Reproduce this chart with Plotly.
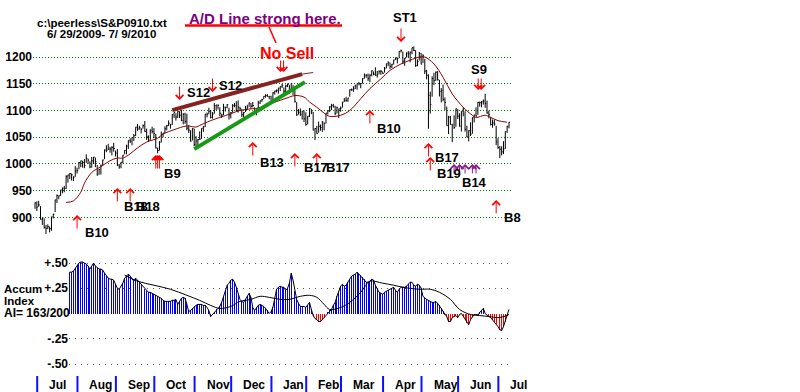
import plotly.graph_objects as go

W, H = 800, 392
FONT = "Liberation Sans, Arial, sans-serif"

# ---------------- DATA (trading-day index 0 = 6/29/2009 ... 259 = 7/9/2010) -------------
close = [
    927.2, 919.3, 923.3, 896.4, 898.7, 881.0, 879.6, 882.7, 879.1, 901.1,
    905.8, 932.7, 940.7, 940.4, 951.1, 954.6, 954.1, 976.3, 979.3, 982.2,
    979.6, 975.2, 986.8, 987.5, 1002.6, 1005.7, 1002.7, 997.1, 1010.5, 1007.1,
    994.4, 1005.8, 1012.7, 1004.1, 979.7, 989.7, 996.5, 1007.4, 1026.1, 1025.6,
    1028.0, 1028.1, 1031.0, 1028.9, 1020.6, 998.0, 994.8, 1003.2, 1016.4, 1025.4,
    1033.4, 1044.1, 1042.7, 1049.3, 1052.6, 1068.8, 1065.5, 1068.3, 1064.7, 1071.7,
    1060.9, 1050.8, 1044.4, 1063.0, 1060.6, 1057.1, 1029.9, 1025.2, 1040.5, 1054.7,
    1057.6, 1065.5, 1071.5, 1076.2, 1073.2, 1092.0, 1096.6, 1087.7, 1097.9, 1091.1,
    1081.4, 1092.9, 1079.6, 1067.0, 1063.4, 1042.6, 1066.1, 1036.2, 1042.9, 1045.4,
    1046.5, 1066.6, 1069.3, 1093.1, 1093.0, 1098.5, 1087.2, 1093.5, 1109.3, 1110.3,
    1109.8, 1094.9, 1091.4, 1106.2, 1105.7, 1110.6, 1091.5, 1095.6, 1108.9, 1109.2,
    1099.9, 1106.0, 1103.3, 1091.9, 1096.0, 1102.4, 1106.4, 1114.1, 1107.9, 1109.2,
    1096.1, 1102.5, 1114.1, 1118.0, 1120.6, 1126.5, 1127.8, 1126.2, 1126.4, 1115.1,
    1133.0, 1136.5, 1137.1, 1141.7, 1145.0, 1147.0, 1136.2, 1145.7, 1148.5, 1136.0,
    1150.2, 1138.0, 1116.5, 1091.8, 1096.8, 1092.2, 1097.5, 1084.5, 1073.9, 1089.2,
    1103.3, 1097.3, 1063.1, 1066.2, 1056.7, 1070.5, 1068.1, 1078.5, 1075.5, 1094.9,
    1099.5, 1106.8, 1109.2, 1108.0, 1094.6, 1105.2, 1102.9, 1104.5, 1115.7, 1118.3,
    1118.8, 1123.0, 1138.7, 1138.5, 1140.5, 1145.6, 1150.2, 1150.0, 1150.5, 1159.5,
    1166.2, 1165.8, 1159.9, 1165.8, 1174.2, 1167.7, 1165.7, 1166.6, 1173.2, 1173.3,
    1169.4, 1178.1, 1187.4, 1189.4, 1182.5, 1186.4, 1194.4, 1196.5, 1197.3, 1210.7,
    1211.7, 1192.1, 1197.5, 1207.2, 1205.9, 1208.7, 1217.3, 1212.1, 1183.7, 1191.4,
    1206.8, 1186.7, 1202.3, 1173.6, 1165.9, 1128.2, 1110.9, 1159.7, 1155.8, 1171.7,
    1157.4, 1135.7, 1136.9, 1120.8, 1115.1, 1071.6, 1087.7, 1073.7, 1074.0, 1068.0,
    1103.1, 1089.4, 1070.7, 1098.4, 1102.8, 1064.9, 1050.5, 1062.0, 1055.7, 1086.8,
    1091.6, 1089.6, 1115.2, 1114.6, 1116.0, 1117.5, 1113.2, 1095.3, 1092.0, 1073.7,
    1076.8, 1074.6, 1041.2, 1030.7, 1027.4, 1022.6, 1028.1, 1060.3, 1070.3, 1078.0,
]
high = [
    928, 930, 931, 921, 899, 898, 886, 887, 883, 901,
    907, 933, 943, 941, 951.6, 956, 959, 979, 979.8, 983,
    982, 977, 996, 993, 1003.6, 1006, 1006, 1009, 1018, 1010,
    1005, 1013, 1013, 1012, 998, 991, 999, 1008, 1027, 1035,
    1037.7, 1032, 1033, 1039.5, 1025, 1028, 1000, 1003.4, 1016.5, 1026,
    1036, 1044.1, 1048, 1049.7, 1056, 1068.8, 1074.8, 1071.5, 1067, 1073.8,
    1080.2, 1066, 1053.5, 1065, 1069.6, 1067, 1056, 1030.6, 1042.6, 1060.6,
    1058, 1070.6, 1073, 1081.4, 1075, 1093, 1096.6, 1094.7, 1098.4, 1098.6,
    1101.4, 1095, 1095.8, 1094, 1073, 1063, 1066.8, 1066, 1052, 1046.5,
    1061, 1066.6, 1071, 1093.2, 1096, 1105, 1101, 1097, 1113.7, 1110.3,
    1111, 1106, 1094, 1112.4, 1107, 1112, 1105, 1097, 1112, 1114,
    1117.3, 1119, 1107, 1103, 1097, 1108.6, 1110.7, 1114.8, 1114, 1116,
    1106, 1103, 1118, 1118.5, 1121.6, 1126.5, 1130.4, 1130.4, 1126.6, 1127.5,
    1133.9, 1136.6, 1139.2, 1142.5, 1145.4, 1149.7, 1143, 1148.4, 1150.4, 1147.8,
    1150.5, 1147.9, 1141.6, 1115.5, 1102.6, 1103.7, 1099.5, 1100.2, 1096.5, 1089.4,
    1104.7, 1102.7, 1097.2, 1067.1, 1071.2, 1079.3, 1073.7, 1080, 1077.8, 1095,
    1099.6, 1108.2, 1112.4, 1112.3, 1108.6, 1107.3, 1103.5, 1107.2, 1116, 1123.5,
    1125.6, 1123.7, 1139.4, 1141, 1145.4, 1148.3, 1150.2, 1153.4, 1150.6, 1160.3,
    1169.2, 1167.8, 1169.2, 1167.8, 1174.7, 1173, 1180.7, 1173.9, 1174.9, 1175.7,
    1173, 1181.4, 1187.7, 1191.8, 1189.6, 1187, 1194.7, 1199.2, 1199, 1210.7,
    1213.9, 1210.2, 1197.9, 1208.5, 1211, 1210.3, 1217.3, 1219.8, 1212.7, 1195.6,
    1209.4, 1207.3, 1205.1, 1196.6, 1176, 1167.6, 1135.1, 1163.9, 1170.5, 1172.9,
    1173.6, 1157.2, 1141.9, 1148.7, 1124.3, 1107.3, 1090, 1089.9, 1074, 1090.8,
    1103.5, 1102.6, 1094.8, 1098.4, 1105.7, 1098.6, 1071.4, 1063.1, 1077.7, 1087.1,
    1092, 1105.9, 1115.6, 1116.6, 1117.7, 1120.7, 1131.2, 1118.5, 1099.6, 1088.2,
    1083.1, 1082.6, 1071.4, 1048.1, 1033.6, 1032.9, 1042.5, 1060.9, 1071.3, 1078.2,
]
low = [
    916, 912, 920, 896, 886, 879, 869, 878, 872, 875,
    898, 910, 927, 934, 940, 945, 947, 953, 965, 972,
    969, 968, 976, 982, 990, 994, 993, 992, 1002, 1000,
    992, 993, 1000, 994, 978, 980, 980, 996, 1009, 1022,
    1026, 1021, 1016, 1023, 1014, 996, 991, 992, 1001, 1018,
    1018, 1028, 1039, 1035, 1043, 1052, 1062, 1064, 1057, 1066,
    1060, 1045, 1041, 1045, 1057, 1048, 1029, 1020, 1025, 1040,
    1050, 1057, 1063, 1071, 1066, 1073, 1086, 1081, 1086, 1086,
    1080, 1074, 1075, 1063, 1058, 1042, 1044, 1033, 1029, 1033,
    1045, 1047, 1060, 1069, 1087, 1093, 1085, 1085, 1094, 1101,
    1102, 1089, 1086, 1091, 1098, 1104, 1083, 1085, 1096, 1106,
    1098, 1096, 1100, 1088, 1085, 1097, 1101, 1107, 1103, 1106,
    1093, 1091, 1103, 1112, 1116, 1121, 1124, 1126, 1121, 1114.8,
    1116.6, 1129.7, 1133.9, 1131.3, 1136.2, 1142, 1131, 1133, 1143.8, 1131.4,
    1135.8, 1129, 1114.8, 1090, 1092.2, 1089.9, 1083, 1078.5, 1071.6, 1073.9,
    1087.9, 1093, 1063.1, 1044.5, 1056.5, 1058.3, 1062.2, 1060, 1063, 1075.5,
    1092.6, 1097.1, 1100.8, 1105.4, 1091, 1094.6, 1086, 1097.6, 1105.4, 1116,
    1116.6, 1116, 1125.7, 1136.8, 1134.9, 1140.1, 1138.9, 1147, 1141.6, 1150.4,
    1159.5, 1161.2, 1155.3, 1152.9, 1163.8, 1166, 1165.1, 1161.5, 1167.7, 1166.6,
    1168.7, 1170.7, 1178.7, 1182.8, 1177.3, 1179.4, 1186, 1194.7, 1187.9, 1198.7,
    1208.5, 1186.8, 1183.7, 1199, 1198.9, 1190.2, 1205.1, 1211.1, 1181.6, 1182.8,
    1193.4, 1186.3, 1188.6, 1168.1, 1158.2, 1065.8, 1094.2, 1125.8, 1147.7, 1155.4,
    1156.1, 1126.1, 1115.0, 1117.2, 1100.7, 1071.6, 1055.9, 1073.4, 1040.8, 1065.6,
    1069.5, 1084.1, 1069.9, 1060.5, 1089, 1060.5, 1049.9, 1042.2, 1052.3, 1056.5,
    1077.6, 1089, 1091.7, 1107.1, 1105.9, 1110.9, 1105.1, 1094.2, 1085.3, 1071.9,
    1067.9, 1071.5, 1035.2, 1028.3, 1010.9, 1015.9, 1018.4, 1028.3, 1058.2, 1066.6,
]

price_ticks = [900, 950, 1000, 1050, 1100, 1150, 1200]

month_names = ["Jul", "Aug", "Sep", "Oct", "Nov", "Dec", "Jan",
               "Feb", "Mar", "Apr", "May", "Jun", "Jul"]
month_start = [2, 24, 45, 66, 88, 108, 130, 149, 168, 191, 212, 232, 254]

# moving average of price
ma_day = [17, 21, 25, 27, 31, 36, 41, 45, 48, 52, 56, 61, 67, 70, 76, 83, 88, 90,
          96, 101, 107, 112, 118, 123, 128, 134, 139, 142, 147, 150, 154, 158,
          161, 167, 172, 178, 183, 189, 194, 200, 205, 210, 213, 218, 223, 228,
          234, 239, 241, 246, 249, 253, 258]
ma_val = [928, 931, 947, 964, 984, 995, 1006, 1011, 1011, 1019, 1030, 1041, 1048,
          1056, 1064, 1071, 1069, 1072, 1081, 1087, 1094, 1100, 1103, 1105, 1112,
          1119, 1125, 1128, 1125, 1116, 1106, 1095, 1089, 1091, 1100, 1122, 1141,
          1159, 1175, 1187, 1194, 1200, 1200, 1187, 1162, 1131, 1106, 1091, 1087,
          1091, 1087, 1081, 1078]

# trend lines (day index, price)
red_trend_day = [75, 146, 152]
red_trend_val = [1100.7, 1168, 1171]
green_trend_day = [87, 147.5]
green_trend_val = [1027.7, 1153]

# Accumulation Index, days 19..259
ai_first_day = 19
ai_val = [
    0.41, 0.41, 0.42, 0.45, 0.48, 0.50, 0.51, 0.51, 0.50, 0.49,
    0.47, 0.44, 0.47, 0.50, 0.47, 0.45, 0.44, 0.44, 0.43, 0.40,
    0.37, 0.35, 0.34, 0.34, 0.33, 0.29, 0.25, 0.24, 0.27, 0.30,
    0.35, 0.37, 0.39, 0.37, 0.34, 0.32, 0.35, 0.33, 0.30, 0.28,
    0.26, 0.24, 0.22, 0.21, 0.21, 0.20, 0.19, 0.18, 0.17, 0.16,
    0.15, 0.13, 0.12, 0.12, 0.12, 0.12, 0.13, 0.13, 0.14, 0.09,
    0.12, 0.15, 0.16, 0.15, 0.09, 0.02, 0.03, 0.05, 0.07, 0.08,
    0.09, 0.09, 0.09, 0.08, 0.08, 0.06, 0.03, -0.03, -0.01, 0.01,
    0.04, 0.06, 0.07, 0.11, 0.16, 0.23, 0.28, 0.30, 0.33, 0.34,
    0.31, 0.26, 0.19, 0.14, 0.12, 0.11, 0.14, 0.17, 0.20, 0.16,
    0.06, 0.03, 0.06, 0.08, 0.09, 0.08, 0.07, 0.05, 0.03, 0.00,
    0.02, 0.06, 0.15, 0.24, 0.26, 0.27, 0.26, 0.26, 0.23, 0.25,
    0.30, 0.40, 0.33, 0.22, 0.14, 0.10, 0.07, 0.07, 0.07, 0.06,
    0.08, 0.11, 0.04, -0.02, -0.05, -0.06, -0.08, -0.08, -0.06, -0.04,
    -0.01, 0.01, 0.03, 0.04, 0.08, 0.11, 0.17, 0.22, 0.27, 0.29,
    0.27, 0.28, 0.31, 0.34, 0.37, 0.38, 0.39, 0.41, 0.39, 0.38,
    0.36, 0.34, 0.31, 0.31, 0.32, 0.34, 0.33, 0.28, 0.25, 0.21,
    0.20, 0.19, 0.21, 0.22, 0.23, 0.24, 0.25, 0.26, 0.23, 0.21,
    0.24, 0.26, 0.26, 0.26, 0.27, 0.29, 0.31, 0.31, 0.28, 0.27,
    0.29, 0.28, 0.25, 0.17, 0.15, 0.14, 0.13, 0.12, 0.11, 0.11,
    0.12, 0.10, 0.08, 0.05, 0.02, -0.01, -0.03, -0.08, -0.08, -0.04,
    -0.03, -0.02, -0.04, -0.01, 0.00, -0.03, -0.06, -0.09, -0.11, -0.06,
    -0.03, -0.01, -0.01, -0.02, 0.01, 0.03, 0.05, 0.00, -0.02, -0.03,
    -0.04, -0.06, -0.08, -0.10, -0.13, -0.16, -0.17, -0.13, -0.08, -0.02,
    0.04,
]
ai_ma_day = [49, 56, 65, 74, 83, 90, 96, 101, 107, 112, 118, 123, 128, 134, 139,
             145, 150, 154, 158, 161, 167, 172, 178, 180, 183, 190, 196, 201, 210,
             216, 221, 227, 232, 238, 243, 248, 254, 259]
ai_ma_val = [0.38, 0.32, 0.28, 0.24, 0.18, 0.13, 0.08, 0.05, 0.07, 0.12, 0.14,
             0.17, 0.16, 0.14, 0.14, 0.17, 0.18, 0.16, 0.09, 0.04, 0.06, 0.11,
             0.21, 0.26, 0.32, 0.30, 0.28, 0.26, 0.24, 0.24, 0.21, 0.14, 0.04,
             -0.01, -0.02, -0.03, -0.04, -0.01]
ai_ticks = [0.50, 0.25, -0.25, -0.50]
ai_tick_text = ["+.50", "+.25", "-.25", "-.50"]

# signal arrows: day, tip price, direction (+1 up / -1 down), kind
arrow_day = [23, 45, 52, 66, 67, 68, 79, 97, 119, 142, 154, 183, 200, 215, 216,
             229, 232, 235, 239, 241, 243, 135, 252]
arrow_tip = [904.5, 955, 955, 1016.7, 1016.7, 1016.7, 1119.6, 1134.5, 1041, 1020.5,
             1020.5, 1100.9, 1228, 1039.2, 1013, 1000, 1000, 1000, 1000, 1000,
             1138.3, 1172, 932.6]
arrow_dir = [1, 1, 1, 1, 1, 1, -1, -1, 1, 1, 1, 1, -1, 1, 1, 1, 1, 1, 1, 1, -1, -1, 1]
arrow_kind = ["r", "r", "r", "r", "r", "r", "r", "r", "r", "r", "r", "r", "r", "r",
              "r", "p", "p", "p", "p", "p", "d", "d", "r"]

# signal labels: text, day of left edge (or centre), price
label_text = ["B10", "B18", "B18", "B9", "S12", "S12", "B13", "B17", "B17", "B10",
              "ST1", "B17", "B19", "B14", "S9", "B8"]
label_day = [26.2, 47.5, 54.3, 69.4, 82.0, 99.5, 121.9, 145.9, 157.9, 185.8,
             202.2, 217.5, 218.6, 232.2, 242.6, 255.2]
label_price = [872.7, 921.3, 921.3, 983, 1134.5, 1147.6, 1001.8, 992.4, 992.4, 1067.2,
               1273, 1011.1, 983, 966.2, 1175.7, 899]
label_anchor = ["left"] * 10 + ["center", "left", "left", "left", "center", "left"]

# ---------------- GEOMETRY -------------------------------------------------
PX0, PXD = 35.0, 1.83            # pixel of day 0, pixels per day


def day_at(px):
    return (px - PX0) / PXD


def fy(py):
    return 1 - py / H


def fx(px):
    return px / W


P_TOP_VAL, P_BOT_VAL = 1300, 855


def price_py(v):
    return 57.0 + (1200 - v) * 0.5347


A_TOP_VAL, A_BOT_VAL = 0.61, -0.62


def ai_py(v):
    return 313.5 - v * 101


days = list(range(len(close)))

# price bars
bx, by = [], []
for d, h, l, c in zip(days, high, low, close):
    bx += [d, d, None, d, d + 0.6, None]
    by += [l, h, None, c, c, None]

ai_days = list(range(ai_first_day, ai_first_day + len(ai_val)))
ai_colors = ["#0000ff" if v >= 0 else "#ff0000" for v in ai_val]

fig = go.Figure()
fig.add_trace(go.Scatter(x=bx, y=by, mode="lines", line=dict(color="black", width=1),
                         hoverinfo="skip", xaxis="x", yaxis="y"))
fig.add_trace(go.Scatter(x=ma_day, y=ma_val, mode="lines",
                         line=dict(color="#8b0000", width=1, shape="spline"),
                         xaxis="x", yaxis="y"))
fig.add_trace(go.Scatter(x=red_trend_day[:2], y=red_trend_val[:2], mode="lines",
                         line=dict(color="#862222", width=4), xaxis="x", yaxis="y"))
fig.add_trace(go.Scatter(x=red_trend_day[1:], y=red_trend_val[1:], mode="lines",
                         line=dict(color="#862222", width=1), xaxis="x", yaxis="y"))
fig.add_trace(go.Scatter(x=green_trend_day, y=green_trend_val, mode="lines",
                         line=dict(color="#159a15", width=4), xaxis="x", yaxis="y"))

fig.add_trace(go.Bar(x=ai_days, y=ai_val, width=0.5, marker=dict(color=ai_colors, line=dict(width=0)),
                     xaxis="x2", yaxis="y2"))
fig.add_trace(go.Scatter(x=ai_days, y=ai_val, mode="lines", line=dict(color="black", width=1),
                         xaxis="x2", yaxis="y2"))
fig.add_trace(go.Scatter(x=ai_ma_day, y=ai_ma_val, mode="lines",
                         line=dict(color="black", width=1, shape="spline"),
                         xaxis="x2", yaxis="y2"))

annotations = []
shapes = []

# arrows
for d, tip, dr, k in zip(arrow_day, arrow_tip, arrow_dir, arrow_kind):
    if k == "p":
        col, ln, wd, shifts = "#8a1a8a", 11, 1, [0]
    elif k == "d":
        col, ln, wd, shifts = "#ff0000", 13, 1, [-1.5, 1.5]
    else:
        col, ln, wd, shifts = "#ff0000", 15, 1, [0]
    for s in shifts:
        annotations.append(dict(x=d, y=tip, xref="x", yref="y", text="", showarrow=True,
                                ax=0, ay=ln * dr, arrowhead=4, arrowsize=1.5, arrowwidth=wd,
                                arrowcolor=col, xshift=s, standoff=0))

for t, d, p, a in zip(label_text, label_day, label_price, label_anchor):
    annotations.append(dict(x=d, y=p, xref="x", yref="y", text=t, showarrow=False,
                            xanchor=a, yanchor="middle",
                            font=dict(family=FONT, size=13, color="black", weight="bold")))

# month ticks and names
for m, name in zip(month_start, month_names):
    shapes.append(dict(type="line", xref="x", yref="paper", x0=m - 0.8, x1=m - 0.8,
                       y0=0, y1=fy(376), line=dict(color="#1010ff", width=2)))
    annotations.append(dict(x=m - 0.8, y=fy(385), xref="x", yref="paper", text=name,
                            xanchor="left", yanchor="middle", xshift=10, showarrow=False,
                            font=dict(family=FONT, size=12, color="black", weight="bold")))

# header texts
annotations += [
    dict(x=fx(102), y=fy(22.5), xref="paper", yref="paper", text="c:\\peerless\\S&amp;P0910.txt",
         showarrow=False, xanchor="center", yanchor="middle",
         font=dict(family=FONT, size=11.5, color="black", weight="bold")),
    dict(x=fx(101), y=fy(33.5), xref="paper", yref="paper", text="6/ 29/2009- 7/ 9/2010",
         showarrow=False, xanchor="center", yanchor="middle",
         font=dict(family=FONT, size=11.5, color="black", weight="bold")),
    dict(x=fx(265), y=fy(18), xref="paper", yref="paper", text="A/D Line strong here.",
         showarrow=False, xanchor="center", yanchor="middle",
         font=dict(family=FONT, size=15, color="#800080", weight="bold")),
    dict(x=fx(287), y=fy(53), xref="paper", yref="paper", text="No Sell",
         showarrow=False, xanchor="center", yanchor="middle",
         font=dict(family=FONT, size=16, color="#ff0000", weight="bold")),
    dict(x=fx(2), y=fy(289), xref="paper", yref="paper", text="Accum",
         showarrow=False, xanchor="left", yanchor="middle",
         font=dict(family=FONT, size=11.5, color="black", weight="bold")),
    dict(x=fx(2), y=fy(301), xref="paper", yref="paper", text="Index",
         showarrow=False, xanchor="left", yanchor="middle",
         font=dict(family=FONT, size=11.5, color="black", weight="bold")),
    dict(x=fx(2), y=fy(313), xref="paper", yref="paper", text="AI= 163/200",
         showarrow=False, xanchor="left", yanchor="middle",
         font=dict(family=FONT, size=12, color="black", weight="bold")),
]
shapes += [
    dict(type="line", xref="paper", yref="paper", x0=fx(185), x1=fx(342), y0=fy(25.5), y1=fy(25.5),
         line=dict(color="#ff0000", width=2.5)),
    dict(type="line", xref="paper", yref="paper", x0=fx(269), x1=fx(276), y0=fy(27), y1=fy(43),
         line=dict(color="#ff0000", width=1.5)),
]

fig.update_layout(
    width=W, height=H, margin=dict(l=0, r=0, t=0, b=0),
    paper_bgcolor="white", plot_bgcolor="white", showlegend=False,
    bargap=0, hovermode=False,
    xaxis=dict(domain=[fx(33), fx(511)], range=[day_at(33), day_at(511)], anchor="y",
               showgrid=False, zeroline=False, showticklabels=False, ticks="", showline=False),
    yaxis=dict(domain=[fy(price_py(P_BOT_VAL)), fy(price_py(P_TOP_VAL))],
               range=[P_BOT_VAL, P_TOP_VAL], anchor="x", tickvals=price_ticks,
               showgrid=True, gridcolor="#008000", griddash="1px,2px", gridwidth=1,
               zeroline=False, ticks="", showline=False,
               tickfont=dict(family=FONT, size=12, color="black", weight="bold")),
    xaxis2=dict(domain=[fx(69), fx(511)], range=[day_at(69), day_at(511)], anchor="y2",
                showgrid=False, zeroline=False, showticklabels=False, ticks="", showline=False),
    yaxis2=dict(domain=[fy(ai_py(A_BOT_VAL)), fy(ai_py(A_TOP_VAL))],
                range=[A_BOT_VAL, A_TOP_VAL], anchor="x2", tickvals=ai_ticks,
                ticktext=ai_tick_text, showgrid=True, gridcolor="#555555",
                griddash="1px,5px", gridwidth=1, zeroline=False, ticks="", showline=False,
                tickfont=dict(family=FONT, size=12, color="black", weight="bold")),
    annotations=annotations, shapes=shapes,
)

fig.write_html("out.html", config={"displayModeBar": False, "staticPlot": True},
               post_script="document.body.style.margin='0';document.body.style.overflow='hidden';")
